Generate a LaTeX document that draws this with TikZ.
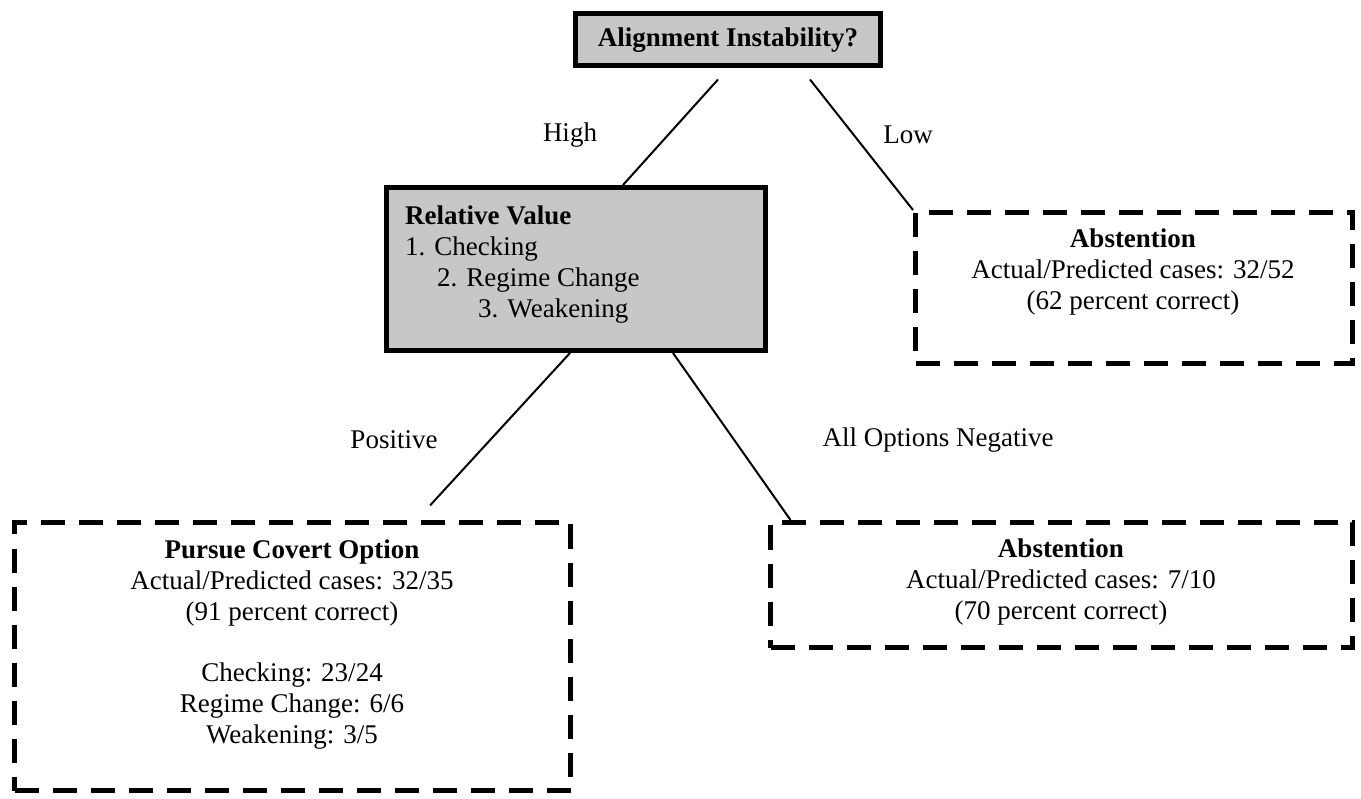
\documentclass[tikz,border=0pt]{standalone}
\usepackage{fontspec}
\setmainfont{Liberation Serif}
\usetikzlibrary{calc}

\tikzset{
  txt/.style={font=\fontsize{27pt}{31pt}\selectfont, inner sep=0pt},
  solidbox/.style={draw=black, line width=5pt, fill=black!22, inner sep=0pt},
  dashbox/.style={draw=black, line width=5pt, dash pattern=on 24pt off 14pt, inner sep=0pt},
  link/.style={draw=black, line width=2pt},
  edgelabel/.style={txt}
}

\begin{document}
\begin{tikzpicture}[x=1pt, y=-1pt]
  \useasboundingbox (0,0) rectangle (1361,799);

  % decision boxes
  \node[solidbox, minimum width=305pt, minimum height=52pt] (top) at (728,39.5) {};
  \node[txt, font=\fontsize{27pt}{31pt}\selectfont\bfseries] (topt) at (728,40) {Alignment Instability?};

  \node[solidbox, minimum width=379pt, minimum height=163pt] (rv) at (576,269) {};
  \node[txt, anchor=west, align=left] (rvt) at (405,264.5)
    {\textbf{Relative Value}\\
     1. Checking\\
     \hspace*{32pt}2. Regime Change\\
     \hspace*{73pt}3. Weakening};

  % outcome boxes
  \node[dashbox, minimum width=437pt, minimum height=151pt] (abst1) at (1134,288) {};
  \node[txt, align=center] (abst1t) at (1133,272)
    {\textbf{Abstention}\\
     Actual/Predicted cases: 32/52\\
     (62 percent correct)};

  \node[dashbox, minimum width=556pt, minimum height=268pt] (pursue) at (292.5,656.5) {};
  \node[txt, align=center] (pursuet) at (292,645)
    {\textbf{Pursue Covert Option}\\
     Actual/Predicted cases: 32/35\\
     (91 percent correct)\\[30pt]
     Checking: 23/24\\
     Regime Change: 6/6\\
     Weakening: 3/5};

  \node[dashbox, minimum width=582pt, minimum height=125pt] (abst2) at (1061.5,585) {};
  \node[txt, align=center] (abst2t) at (1061,582)
    {\textbf{Abstention}\\
     Actual/Predicted cases: 7/10\\
     (70 percent correct)};

  % branches
  \draw[link] ($(top.south)+(-10,11.5)$) -- ($(rv.north)+(47,0)$);
  \draw[link] ($(top.south)+(82,11.5)$) -- (abst1.north west);
  \draw[link] ($(rv.south)+(-6,0)$) -- ($(pursue.north)+(137.5,-14.5)$);
  \draw[link] ($(rv.south)+(97,0)$) -- ($(abst2.north west)+(22.5,0)$);

  % branch labels
  \node[edgelabel] (high) at (570,135) {High};
  \node[edgelabel] (low) at (908,135) {Low};
  \node[edgelabel] (pos) at (394,440) {Positive};
  \node[edgelabel] (neg) at (938,440) {All Options Negative};
\end{tikzpicture}
\end{document}
